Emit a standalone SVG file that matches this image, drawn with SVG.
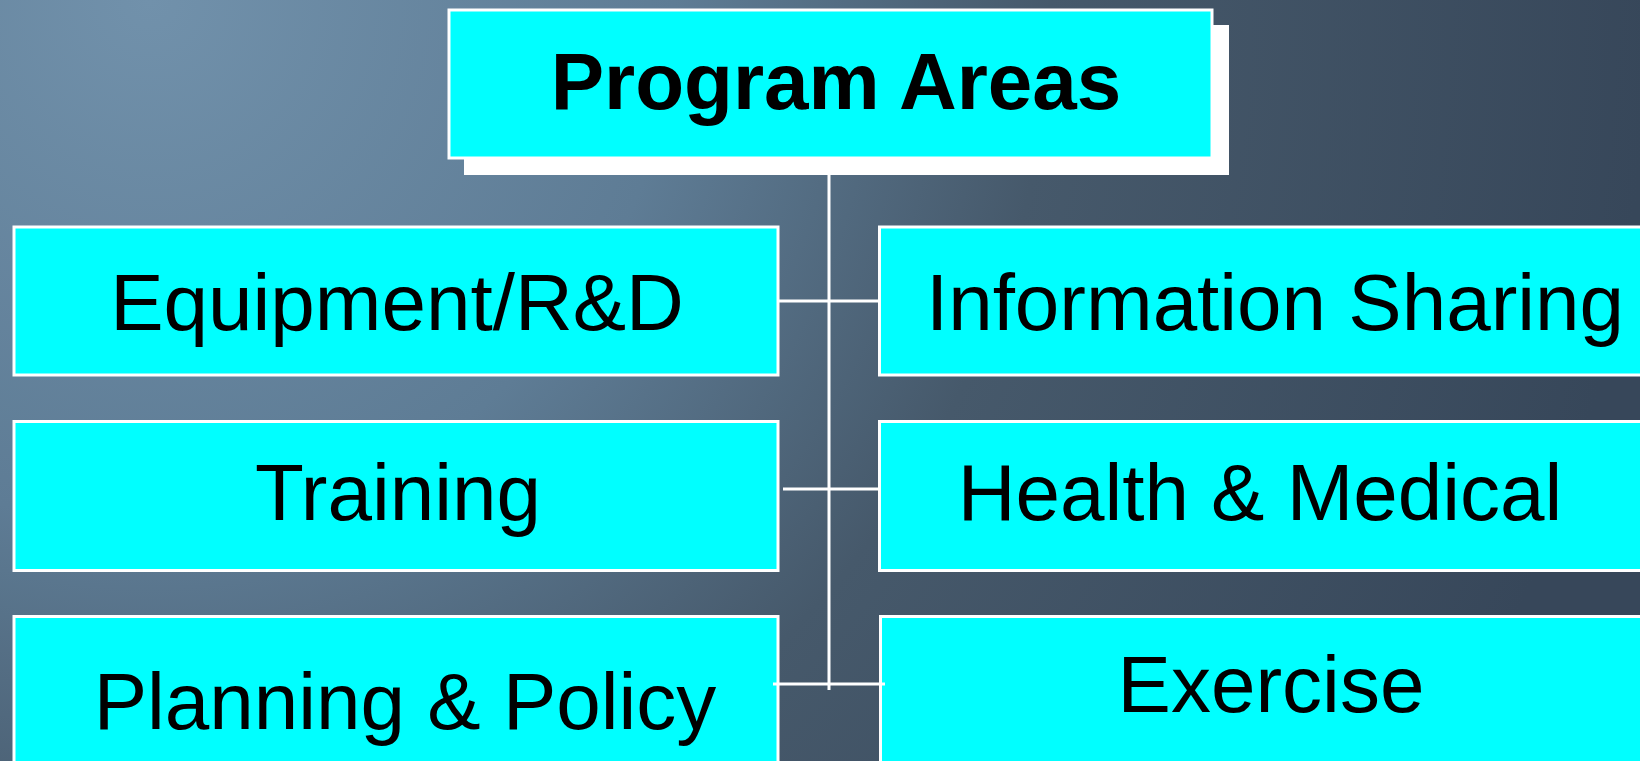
<svg xmlns="http://www.w3.org/2000/svg" width="1640" height="761" viewBox="0 0 1640 761">
  <defs>
    <radialGradient id="bg" gradientUnits="userSpaceOnUse" cx="150" cy="0" r="1500">
      <stop offset="0" stop-color="#7191ab"/>
      <stop offset="0.35" stop-color="#5e7c95"/>
      <stop offset="0.6" stop-color="#46596b"/>
      <stop offset="1" stop-color="#37475a"/>
    </radialGradient>
  </defs>
  <style>
    .box { fill: #00ffff; stroke: #ffffff; stroke-width: 3; }
    .shadow { fill: #ffffff; }
    .lbl { font-family: "Liberation Sans", Arial, sans-serif; font-size: 80px; fill: #000000; text-anchor: middle; }
    .title { font-weight: bold; }
    .conn { stroke: #ffffff; stroke-width: 3; fill: none; }
  </style>
  <rect x="0" y="0" width="1640" height="761" fill="url(#bg)"/>
  <g id="program-areas">
    <rect class="shadow" x="464" y="25" width="765" height="150"/>
    <rect class="box" x="449" y="10" width="763" height="148" stroke-width="2"/>
    <text class="lbl title" x="836" y="109">Program Areas</text>
  </g>
  <g id="equipment">
    <rect class="box" x="14" y="227" width="764" height="148"/>
    <text class="lbl" x="397" y="330">Equipment/R&amp;D</text>
  </g>
  <g id="training">
    <rect class="box" x="14" y="421.5" width="764" height="149"/>
    <text class="lbl" x="398" y="520">Training</text>
  </g>
  <g id="planning">
    <rect class="box" x="14" y="616.5" width="764" height="200"/>
    <text class="lbl" x="405" y="729">Planning &amp; Policy</text>
  </g>
  <g id="information">
    <rect class="box" x="879.5" y="227" width="800" height="148"/>
    <text class="lbl" x="1275" y="330">Information Sharing</text>
  </g>
  <g id="health">
    <rect class="box" x="879.5" y="421.5" width="800" height="149"/>
    <text class="lbl" x="1260" y="520">Health &amp; Medical</text>
  </g>
  <g id="exercise">
    <rect class="box" x="880.5" y="616.5" width="800" height="200"/>
    <text class="lbl" x="1271" y="712">Exercise</text>
  </g>
  <g id="connectors">
    <line class="conn" x1="829" y1="175" x2="829" y2="690"/>
    <line class="conn" x1="779" y1="301" x2="878" y2="301"/>
    <line class="conn" x1="783" y1="489" x2="878" y2="489"/>
    <line class="conn" x1="773" y1="684" x2="885" y2="684"/>
  </g>
</svg>
